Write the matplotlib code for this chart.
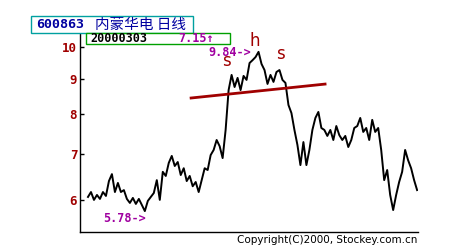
import numpy as np
import matplotlib
matplotlib.use("Agg")
import matplotlib.pyplot as plt
import matplotlib.patches as mpatches
from matplotlib.ticker import FixedLocator, NullLocator

# ------------------------------------------------------------------------------
# Data (one close roughly every 3 sessions)
# ------------------------------------------------------------------------------
stock_code = "600863"
stock_name = "内蒙华电 日线"
cursor_date = "20000303"
cursor_price = "7.15↑"
copyright_text = "Copyright(C)2000, Stockey.com.cn"

close = [6.06, 6.16, 6.00, 6.10, 6.02, 6.16, 6.08, 6.39, 6.54, 6.16,
         6.35, 6.16, 6.20, 6.02, 5.94, 6.04, 5.92, 6.02, 5.90, 5.78,
         5.98, 6.06, 6.14, 6.41, 6.00, 6.59, 6.50, 6.79, 6.95, 6.72,
         6.81, 6.52, 6.67, 6.39, 6.50, 6.28, 6.37, 6.16, 6.41, 6.67,
         6.63, 6.97, 7.09, 7.33, 7.18, 6.90, 7.58, 8.66, 9.11, 8.75,
         9.02, 8.66, 9.08, 8.96, 9.48, 9.57, 9.67, 9.84, 9.45, 9.26,
         8.84, 9.11, 8.90, 9.20, 9.26, 8.96, 8.87, 8.24, 8.02, 7.58,
         7.21, 6.74, 7.28, 6.74, 7.09, 7.58, 7.89, 8.05, 7.63, 7.58,
         7.43, 7.58, 7.33, 7.68, 7.45, 7.33, 7.43, 7.16, 7.33, 7.63,
         7.68, 7.89, 7.53, 7.63, 7.33, 7.84, 7.53, 7.63, 7.09, 6.41,
         6.63, 6.10, 5.80, 6.10, 6.37, 6.59, 7.09, 6.85, 6.67, 6.41,
         6.20]

# neckline of the head-and-shoulders top
neck_x = [34, 79.7]
neck_y = [8.43, 8.84]

yticks = [6, 7, 8, 9, 10]
ytick_labels = ["6", "7", "8", "9", "10"]

# pattern letters: (label, x index, price at baseline)
pattern_marks = [("s", 46.2, 9.40), ("h", 55.7, 10.03), ("s", 64.3, 9.61)]

RED = "#a00000"
PURPLE = "#a000a0"
BLUE = "#0000a0"
MONO = "DejaVu Sans Mono"


def fig_box(fig, x0, y0, x1, y1, edge):
    """Draw a white box given in pixel coords (origin top-left) of a 450x250 fig."""
    W, H = 450.0, 250.0
    rect = mpatches.Rectangle((x0 / W, 1 - y1 / H), (x1 - x0) / W, (y1 - y0) / H,
                              transform=fig.transFigure, facecolor="white",
                              edgecolor=edge, linewidth=1.0, zorder=5)
    fig.patches.append(rect)


def fig_text(fig, x, y, s, **kw):
    fig.text(x / 450.0, 1 - y / 250.0, s, zorder=6, **kw)


if __name__ == "__main__":
    fig = plt.figure(figsize=(4.5, 2.5), dpi=100)
    ax = fig.add_axes([80 / 450, 1 - 232 / 250, (418 - 80) / 450, (232 - 33) / 250])

    x = np.arange(len(close))
    ax.plot(x, close, color="black", linewidth=1.4)
    ax.plot(neck_x, neck_y, color=RED, linewidth=2.0, solid_capstyle="butt")

    ax.set_yscale("log")
    ax.set_ylim(5.39, 10.48)
    ax.set_xlim(-2.67, 110.3)
    ax.yaxis.set_major_locator(FixedLocator(yticks))
    ax.yaxis.set_minor_locator(NullLocator())
    ax.set_yticklabels(ytick_labels, color=RED, fontfamily=MONO,
                       fontweight="bold", fontsize=9)
    ax.tick_params(axis="y", direction="in", length=3, width=1, pad=2)
    ax.set_xticks([])
    for side in ["top", "right"]:
        ax.spines[side].set_visible(False)
    for side in ["left", "bottom"]:
        ax.spines[side].set_linewidth(1.0)

    # high / low markers
    i_lo = int(np.argmin(close))
    i_hi = int(np.argmax(close))
    ax.annotate(f"{close[i_lo]:.2f}->", (i_lo, close[i_lo]), xytext=(1, -1),
                textcoords="offset points", ha="right", va="top",
                color=PURPLE, fontfamily=MONO, fontweight="bold", fontsize=8.5)
    ax.annotate(f"{close[i_hi]:.2f}->", (i_hi, close[i_hi]), xytext=(-5, 4),
                textcoords="offset points", ha="right", va="top",
                color=PURPLE, fontfamily=MONO, fontweight="bold", fontsize=8.5)

    for label, xi, yp in pattern_marks:
        ax.text(xi, yp, label, color=RED, fontsize=12, ha="center",
                va="baseline", clip_on=False)

    # header boxes
    fig_box(fig, 31, 16, 193, 33, "#00a0a0")
    fig_text(fig, 36, 25, stock_code, color=BLUE, fontfamily=MONO,
             fontweight="bold", fontsize=9.5, va="center", ha="left")
    fig_text(fig, 95, 25, stock_name, color=BLUE, fontsize=10.5,
             va="center", ha="left", family=["Noto Sans CJK SC", "DejaVu Sans"])
    fig_box(fig, 86, 33, 230, 44, "#00a000")
    fig_text(fig, 90, 39, cursor_date, color="black", fontfamily=MONO,
             fontweight="bold", fontsize=8.5, va="center", ha="left")
    fig_text(fig, 178, 39, cursor_price, color=PURPLE, fontfamily=MONO,
             fontweight="bold", fontsize=8.5, va="center", ha="left")

    fig_text(fig, 237, 240, copyright_text, color="black", fontsize=7.5,
             va="center", ha="left")

    fig.savefig("out.png", dpi=100)
